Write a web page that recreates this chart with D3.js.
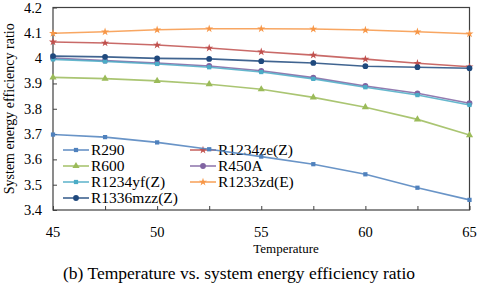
<!DOCTYPE html>
<html>
<head>
<meta charset="utf-8">
<script src="https://cdn.jsdelivr.net/npm/d3@7"></script>
<style>
  body { margin: 0; background: #fff; }
</style>
</head>
<body>
<svg id="chart" width="480" height="286" font-family="'Liberation Serif', 'DejaVu Serif', serif"></svg>
<script>
// temperatures on the x axis
const temps = [45, 47.5, 50, 52.5, 55, 57.5, 60, 62.5, 65];

// system energy efficiency ratio per refrigerant
const r290      = [3.698, 3.688, 3.667, 3.640, 3.611, 3.581, 3.541, 3.488, 3.440];
const r1234zeZ  = [4.064, 4.060, 4.052, 4.040, 4.025, 4.012, 3.996, 3.980, 3.966];
const r600      = [3.924, 3.919, 3.910, 3.897, 3.877, 3.845, 3.806, 3.758, 3.696];
const r450A     = [4.000, 3.990, 3.981, 3.969, 3.950, 3.923, 3.890, 3.861, 3.822];
const r1234yfZ  = [3.995, 3.987, 3.977, 3.964, 3.945, 3.918, 3.885, 3.854, 3.815];
const r1233zdE  = [4.098, 4.104, 4.112, 4.116, 4.116, 4.115, 4.111, 4.104, 4.096];
const r1336mzzZ = [4.008, 4.005, 3.999, 3.997, 3.988, 3.981, 3.968, 3.964, 3.960];

const xTicks = [45, 50, 55, 60, 65];
const xMinorTicks = [45, 47.5, 50, 52.5, 55, 57.5, 60, 62.5, 65];
const yTicks = [3.4, 3.5, 3.6, 3.7, 3.8, 3.9, 4.0, 4.1, 4.2];

const series = [
    { name: "R290",        values: r290,      color: "#4f81bd", marker: "square" },
    { name: "R1234ze(Z)",  values: r1234zeZ,  color: "#c0504d", marker: "star" },
    { name: "R600",        values: r600,      color: "#9bbb59", marker: "triangle" },
    { name: "R450A",       values: r450A,     color: "#8064a2", marker: "circle" },
    { name: "R1234yf(Z)",  values: r1234yfZ,  color: "#4bacc6", marker: "square" },
    { name: "R1233zd(E)",  values: r1233zdE,  color: "#f79646", marker: "star" },
    { name: "R1336mzz(Z)", values: r1336mzzZ, color: "#1f497d", marker: "circle" }
];

const svg = d3.select("#chart");

const x = d3.scaleLinear().domain([45, 65]).range([53, 469.5]);
const y = d3.scaleLinear().domain([3.4, 4.2]).range([210, 7.5]);

// marker symbol for each kind
function symbolFor(kind) {
    if (kind === "square") return d3.symbol().type(d3.symbolSquare).size(18);
    if (kind === "triangle") return d3.symbol().type(d3.symbolTriangle).size(22);
    if (kind === "star") return d3.symbol().type(d3.symbolStar).size(20);
    return d3.symbol().type(d3.symbolCircle).size(26);
}

// frame
svg.append("rect")
    .attr("x", x(45)).attr("y", y(4.2))
    .attr("width", x(65) - x(45)).attr("height", y(3.4) - y(4.2))
    .attr("fill", "none").attr("stroke", "#404040").attr("stroke-width", 1.2);

// y axis, ticks pointing inward
const yAxis = svg.append("g")
    .attr("transform", `translate(${x(45)},0)`)
    .call(d3.axisRight(y).tickValues(yTicks).tickSize(4).tickFormat(() => ""));
yAxis.select(".domain").remove();
yAxis.selectAll("line").attr("stroke", "#404040");

svg.append("g").selectAll("text")
    .data(yTicks)
    .enter()
    .append("text")
    .attr("x", 42)
    .attr("y", d => y(d) + 5)
    .attr("text-anchor", "end")
    .attr("font-size", 14.5)
    .text(d => +d.toFixed(1));

// x axis ticks inward
const xAxis = svg.append("g")
    .attr("transform", `translate(0,${y(3.4)})`)
    .call(d3.axisTop(x).tickValues(xMinorTicks).tickSize(4).tickFormat(() => ""));
xAxis.select(".domain").remove();
xAxis.selectAll("line").attr("stroke", "#404040");

svg.append("g").selectAll("text")
    .data(xTicks)
    .enter()
    .append("text")
    .attr("x", d => x(d))
    .attr("y", 237)
    .attr("text-anchor", "middle")
    .attr("font-size", 14.5)
    .text(d => d);

// axis titles
svg.append("text")
    .attr("transform", `translate(14,${(y(4.2) + y(3.4)) / 2}) rotate(-90)`)
    .attr("text-anchor", "middle")
    .attr("font-size", 14)
    .text("System energy efficiency ratio");

svg.append("text")
    .attr("x", 286).attr("y", 253)
    .attr("text-anchor", "middle")
    .attr("font-size", 13)
    .text("Temperature");

svg.append("text")
    .attr("x", 239).attr("y", 279)
    .attr("text-anchor", "middle")
    .attr("font-size", 17.5)
    .text("(b) Temperature vs. system energy efficiency ratio");

// legend (drawn under the data lines)
const legend = svg.append("g");
series.forEach((s, i) => {
    const col = i % 2, row = Math.floor(i / 2);
    const lx = col === 0 ? 63 : 190;
    const ly = 150 + row * 16;
    const g = legend.append("g");
    g.append("line")
        .attr("x1", lx).attr("x2", lx + 26)
        .attr("y1", ly).attr("y2", ly)
        .attr("stroke", s.color).attr("stroke-width", 1.6).attr("opacity", 0.85);
    g.append("path")
        .attr("d", symbolFor(s.marker)())
        .attr("transform", `translate(${lx + 13},${ly})`)
        .attr("fill", s.color);
    g.append("text")
        .attr("x", lx + 28).attr("y", ly + 5)
        .attr("font-size", 15.5)
        .text(s.name);
});

// data lines and markers
const line = d3.line()
    .x((d, i) => x(temps[i]))
    .y(d => y(d));

series.forEach(s => {
    svg.append("path")
        .datum(s.values)
        .attr("d", line)
        .attr("fill", "none")
        .attr("stroke", s.color)
        .attr("stroke-width", 1.6)
        .attr("opacity", 0.85);

    svg.append("g").selectAll("path")
        .data(s.values)
        .enter()
        .append("path")
        .attr("d", symbolFor(s.marker)())
        .attr("transform", (d, i) => `translate(${x(temps[i])},${y(d)})`)
        .attr("fill", s.color);
});
</script>
</body>
</html>
